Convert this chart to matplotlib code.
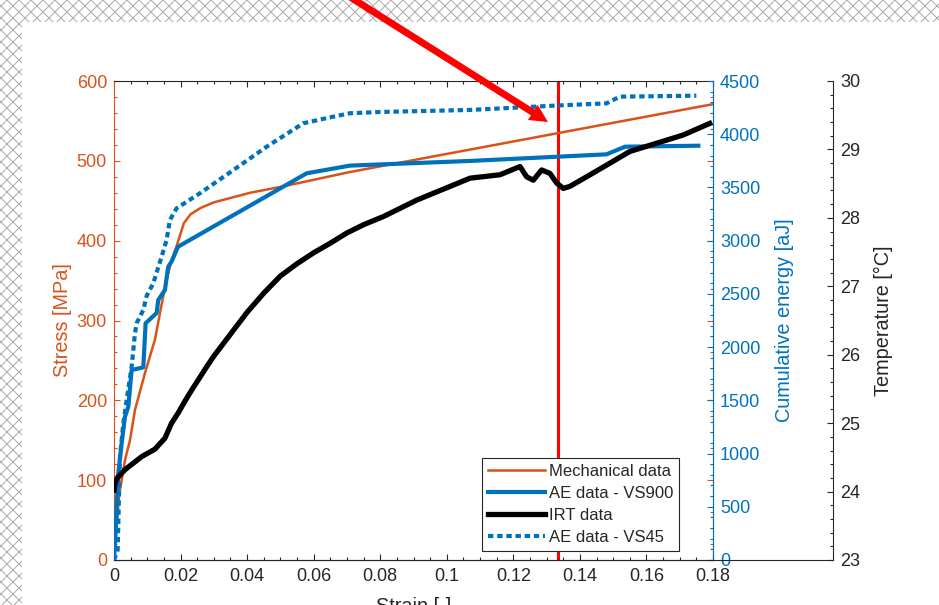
import matplotlib
matplotlib.use('Agg')
import matplotlib.pyplot as plt
import numpy as np
from matplotlib.collections import LineCollection
from matplotlib.patches import Rectangle, FancyArrowPatch
from matplotlib.ticker import MultipleLocator

plt.rcParams['font.family'] = ['Liberation Sans', 'DejaVu Sans']

# mechanical curve (stress, left axis)
mech_strain = [0, 0.0006, 0.0015, 0.0033, 0.0048, 0.0063, 0.0093, 0.0123, 0.0143, 0.016, 0.0175,
               0.0188, 0.0197, 0.021, 0.023, 0.026, 0.03, 0.0409, 0.0508, 0.0709, 0.18]
mech_stress = [0, 30, 80, 125, 150, 188, 234, 276, 320, 355, 378,
               393, 405, 422, 433, 441, 448, 460, 468, 486, 571]

# AE cumulative energy, sensor VS900 (right axis)
vs900_strain = [0, 0.0005, 0.0013, 0.0023, 0.0033, 0.0043, 0.0053, 0.0088, 0.0095, 0.0128, 0.0133,
                0.0153, 0.0163, 0.0173, 0.0188, 0.0193, 0.0579, 0.0709, 0.107, 0.148, 0.1536, 0.1756]
vs900_energy = [0, 300, 815, 1096, 1346, 1440, 1785, 1810, 2224, 2320, 2443,
                2537, 2756, 2803, 2912, 2944, 3633, 3705, 3749, 3811, 3883, 3892]

# AE cumulative energy, sensor VS45
vs45_strain = [0, 0.0011, 0.0018, 0.0028, 0.0038, 0.0053, 0.0063, 0.0068, 0.0088, 0.0098, 0.0118,
               0.0143, 0.0158, 0.0168, 0.0188, 0.0258, 0.0359, 0.0459, 0.0569, 0.0659, 0.0709,
               0.08, 0.107, 0.132, 0.148, 0.152, 0.175]
vs45_energy = [0, 94, 970, 1284, 1503, 1816, 2130, 2224, 2349, 2480, 2600,
               2849, 3006, 3194, 3304, 3445, 3664, 3883, 4103, 4165, 4197,
               4209, 4228, 4268, 4290, 4353, 4362]

# IRT temperature (third axis)
irt_strain = [0, 0.0003, 0.001, 0.0033, 0.0083, 0.0123, 0.0153, 0.0173, 0.0193, 0.0213, 0.0233,
              0.0278, 0.03, 0.035, 0.04, 0.045, 0.05, 0.055, 0.06, 0.065, 0.07, 0.075, 0.081,
              0.091, 0.101, 0.107, 0.116, 0.122, 0.124, 0.126, 0.1285, 0.131, 0.133, 0.135,
              0.137, 0.142, 0.148, 0.155, 0.163, 0.171, 0.179]
irt_temp = [24.02, 24.12, 24.2, 24.32, 24.51, 24.62, 24.78, 25.0, 25.15, 25.32, 25.48,
            25.82, 25.98, 26.3, 26.62, 26.9, 27.15, 27.33, 27.49, 27.63, 27.78, 27.9, 28.02,
            28.26, 28.46, 28.58, 28.63, 28.75, 28.60, 28.55, 28.70, 28.65, 28.51, 28.43,
            28.46, 28.60, 28.77, 28.97, 29.09, 29.21, 29.38]

marker_strain = 0.1334

x_ticks = [0, 0.02, 0.04, 0.06, 0.08, 0.1, 0.12, 0.14, 0.16, 0.18]
x_ticklabels = ['0', '0.02', '0.04', '0.06', '0.08', '0.1', '0.12', '0.14', '0.16', '0.18']
legend_labels = ['Mechanical data', 'AE data - VS900', 'IRT data', 'AE data - VS45']

ORANGE = '#D95319'
BLUE = '#0072BD'
DARK = '#262626'

W, H = 939, 605
fig = plt.figure(figsize=(W / 100, H / 100), dpi=100)
fig.patch.set_facecolor('white')

# checkered border around the white panel
bg = fig.add_axes([0, 0, 1, 1], zorder=-10)
bg.set_xlim(0, W)
bg.set_ylim(H, 0)
bg.axis('off')
offs = np.arange(-H, W + H, 12)
segs = [[(c, 0), (c + H, H)] for c in offs] + [[(c, 0), (c - H, H)] for c in offs]
bg.add_collection(LineCollection(segs, colors='#a8a8a8', linewidths=0.7, zorder=1))
bg.add_patch(Rectangle((22, 22), W, H, facecolor='white', edgecolor='none', zorder=5))


def frac(l, r, t, b):
    return [l / W, 1 - b / H, (r - l) / W, (b - t) / H]


L, R, T, B, R3 = 114, 713, 81, 560, 833
ax = fig.add_axes(frac(L, R, T, B))
ax2 = ax.twinx()
ax3 = fig.add_axes(frac(L, R3, T, B), facecolor='none')

ax.axvline(marker_strain, color='red', lw=2.2, zorder=1)
l_mech, = ax.plot(mech_strain, mech_stress, color=ORANGE, lw=1.8)
l_900, = ax2.plot(vs900_strain, vs900_energy, color=BLUE, lw=3)
l_45, = ax2.plot(vs45_strain, vs45_energy, color=BLUE, lw=3, ls=(0, (1.3, 0.9)))
l_irt, = ax3.plot(irt_strain, irt_temp, color='black', lw=3.8)

ax.set_xlim(0, 0.18)
ax3.set_xlim(0, 0.18 * (R3 - L) / (R - L))
ax.set_ylim(0, 600)
ax2.set_ylim(0, 4500)
ax3.set_ylim(23, 30)

# main axes
ax.set_xticks(x_ticks)
ax.set_xticklabels(x_ticklabels)
ax.set_yticks(range(0, 601, 100))
ax.xaxis.set_minor_locator(MultipleLocator(0.005))
ax.yaxis.set_minor_locator(MultipleLocator(20))
ax.tick_params(axis='x', which='both', direction='in', top=True, bottom=True,
               colors=DARK, labelsize=13, pad=6)
ax.tick_params(axis='y', which='both', direction='in', left=True, right=True,
               colors=ORANGE, labelsize=13, pad=5)
ax.tick_params(which='major', length=4.3, width=0.8)
ax.tick_params(which='minor', length=2.4, width=0.8)
ax.spines['left'].set_color(ORANGE)
ax.spines['right'].set_color(BLUE)
ax.spines['top'].set_color(DARK)
ax.spines['bottom'].set_color(DARK)
for s in ax.spines.values():
    s.set_linewidth(0.8)

# energy axis
ax2.set_yticks(range(0, 4501, 500))
ax2.yaxis.set_minor_locator(MultipleLocator(100))
ax2.tick_params(axis='y', which='both', direction='in', colors=BLUE, labelsize=13, pad=5)
ax2.tick_params(which='major', length=4.3, width=0.8)
ax2.tick_params(which='minor', length=2.4, width=0.8)
for side in ['left', 'top', 'bottom']:
    ax2.spines[side].set_visible(False)
ax2.spines['right'].set_color(BLUE)
ax2.spines['right'].set_linewidth(0.8)

# temperature axis
ax3.spines['left'].set_visible(False)
ax3.spines['top'].set_visible(False)
ax3.spines['bottom'].set_color(DARK)
ax3.spines['right'].set_color(DARK)
for s in ax3.spines.values():
    s.set_linewidth(0.8)
ax3.tick_params(axis='x', bottom=False, labelbottom=False)
ax3.yaxis.tick_right()
ax3.set_yticks(range(23, 31))
ax3.yaxis.set_minor_locator(MultipleLocator(0.2))
ax3.tick_params(axis='y', which='both', direction='in', colors=DARK, labelsize=13, pad=5)
ax3.tick_params(which='major', length=4.3, width=0.8)
ax3.tick_params(which='minor', length=2.4, width=0.8)

# labels
ax.set_xlabel('Strain [-]', fontsize=14.3, color=DARK)
ax.xaxis.set_label_coords(0.5, (B - 597) / (B - T))
ax.set_ylabel('Stress [MPa]', fontsize=14.3, color=ORANGE)
ax.yaxis.set_label_coords((62 - L) / (R - L), 0.5)
ax.yaxis.label.set_va('center')
ax2.set_ylabel('Cumulative energy [aJ]', fontsize=14.3, color=BLUE)
ax2.yaxis.set_label_coords((785 - L) / (R - L), 0.5)
ax2.yaxis.label.set_va('center')
ax3.set_ylabel('Temperature [°C]', fontsize=14.3, color=DARK)
ax3.yaxis.set_label_position('right')
ax3.yaxis.set_label_coords((883 - L) / (R3 - L), 0.5)
ax3.yaxis.label.set_va('center')

leg = ax3.legend([l_mech, l_900, l_irt, l_45], legend_labels, loc='lower right',
                 bbox_to_anchor=((679 - L) / (R - L), (B - 551) / (B - T)),
                 bbox_transform=ax.transAxes, borderaxespad=0, fancybox=False,
                 framealpha=1, edgecolor=DARK, fontsize=12, handlelength=3.4,
                 handletextpad=0.25, labelspacing=0.42, borderpad=0.35)
leg.get_frame().set_linewidth(0.8)
for t in leg.get_texts():
    t.set_color(DARK)

# red annotation arrow
arrow = FancyArrowPatch((350 / W, 1 + 3 / H), (548 / W, 1 - 122 / H), transform=fig.transFigure,
                        arrowstyle='simple,head_length=13,head_width=13,tail_width=5',
                        mutation_scale=1, color='red', lw=0, shrinkA=0, shrinkB=0)
fig.add_artist(arrow)

fig.savefig('out.png', dpi=100, facecolor=fig.get_facecolor())
plt.close(fig)
